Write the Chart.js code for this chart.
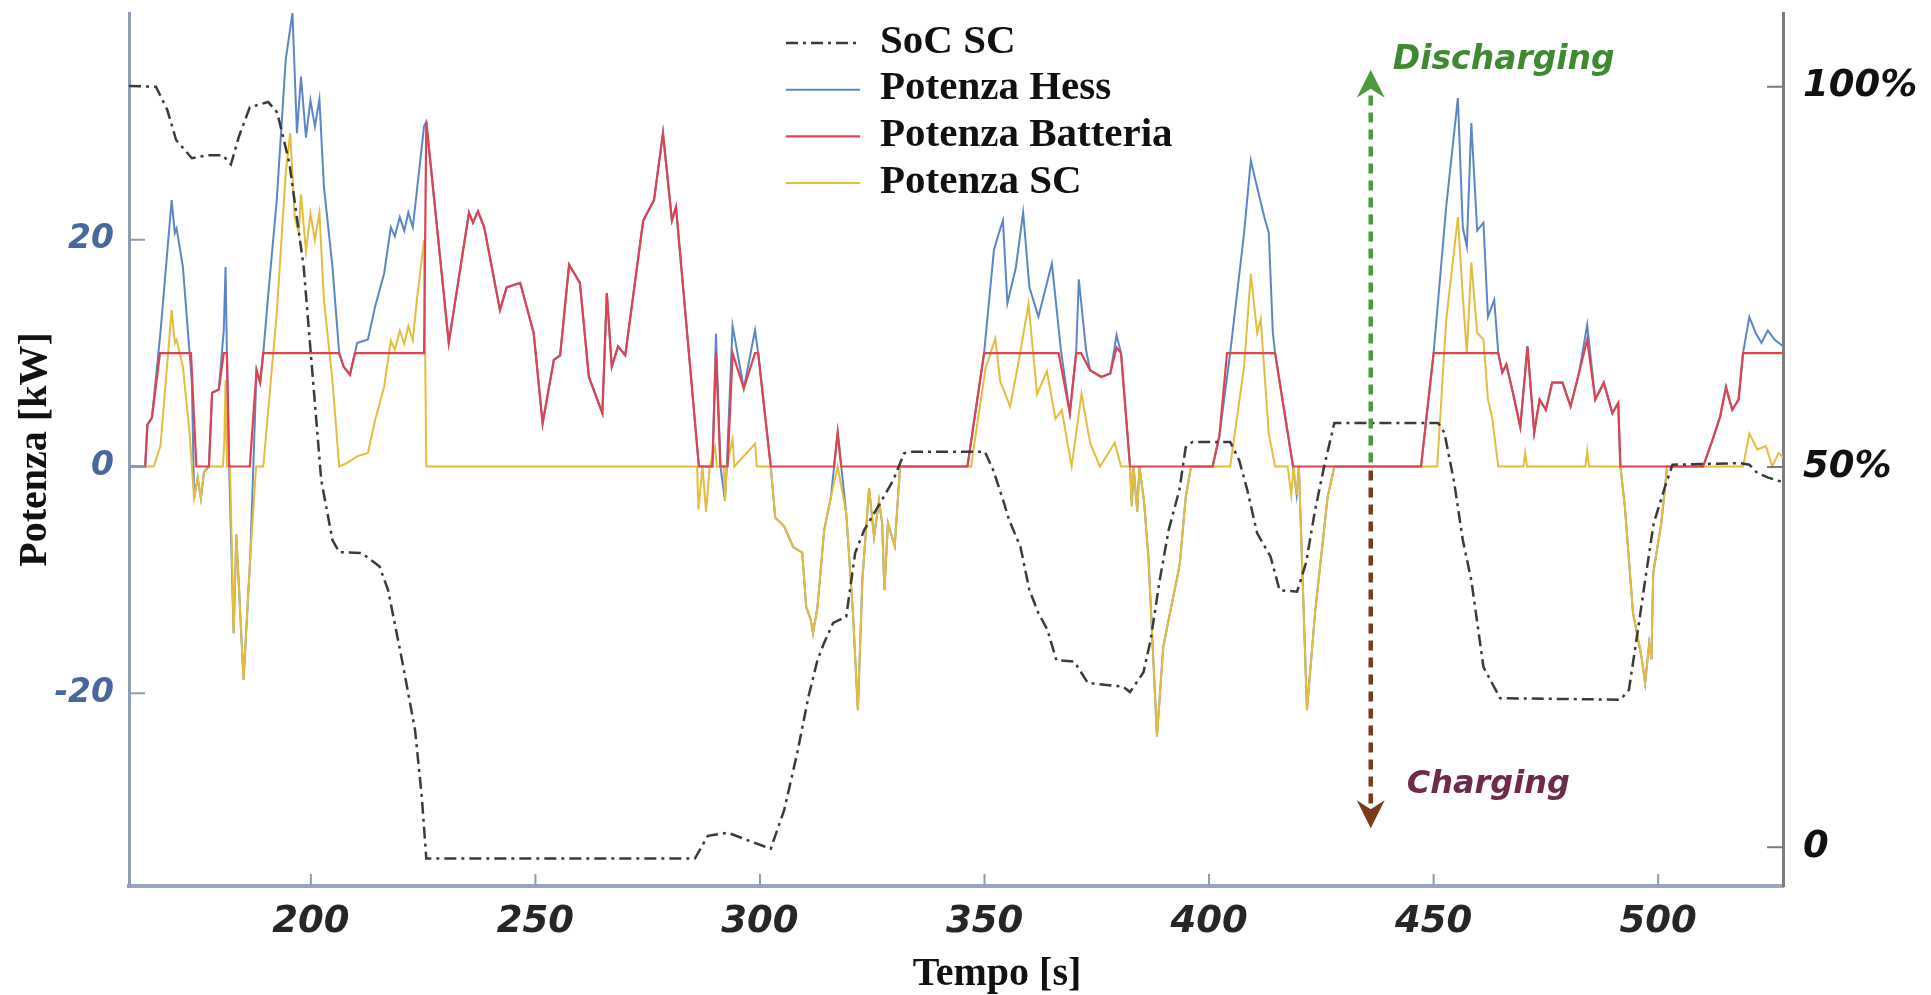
<!DOCTYPE html>
<html><head><meta charset="utf-8">
<script src="https://cdn.jsdelivr.net/npm/chart.js@4.4.0/dist/chart.umd.min.js"></script>
<style>html,body{margin:0;padding:0;background:#fff;overflow:hidden}canvas{display:block}</style>
</head><body>
<canvas id="c" width="1931" height="995"></canvas>
<script>
// ---------- DATA (time [s], value) ----------
const seriesNames = ['SoC SC', 'Potenza Hess', 'Potenza Batteria', 'Potenza SC'];

const socSC = [[159.5,100.1],[165.5,100],[168,97],[170,93],[173.5,90.6],[177,91],[180.4,91],[182.2,89.8],[184,93.5],[186.4,97.3],[190.5,98],[192.5,96.6],[195.2,90],[198.4,76.3],[202.3,48.3],[204.8,40.4],[206.3,38.8],[211.3,38.7],[215.3,36.9],[217.2,33.8],[220.3,24.6],[223.2,15.4],[224.7,6.6],[225.7,-1.5],[285.5,-1.5],[288.4,1.5],[292.9,1.9],[296.9,1.0],[302.4,-0.2],[305.4,4.9],[308.3,12.4],[310.8,19.8],[312.8,24.6],[314.3,26.9],[316.3,29.5],[319.2,30.3],[321.2,38.7],[323.2,41.7],[327.2,45.7],[329.7,48.3],[332.1,51.8],[334,52],[350.1,52],[352,49.5],[354.1,45.7],[355.5,43],[358,39.5],[360,33.8],[362,30.8],[364,28.6],[366,24.6],[370,24.4],[373,21.6],[380.9,21.1],[382.4,20.4],[385.4,23],[387,27.3],[389,35.1],[391,41.7],[393.4,47],[394.8,52.6],[396.3,53.3],[404.7,53.3],[406.7,50.9],[408.5,47],[410.7,41.3],[413.7,38.2],[415.7,33.8],[419.6,33.6],[421.6,37.4],[423.6,44.3],[425.6,50],[427.9,55.8],[451,55.8],[452.4,54.5],[454.6,47.9],[456.5,40.4],[458.4,35.1],[461.1,23.7],[464.8,19.6],[491.6,19.4],[493.5,20.7],[495.4,28.2],[497.1,35.1],[499,42.6],[501.8,47.9],[503.2,50.3],[518.4,50.5],[520.3,50.3],[522.1,49.2],[524.5,48.6],[527.8,48]];

const potenzaBatteria = [[159.5,0],[163.1,0],[163.6,3.7],[164.6,4.3],[166.4,10],[173.3,10],[174.5,0],[177.3,0],[178,6.5],[179.5,6.8],[180.6,10],[181.3,10],[181.8,0],[186.4,0],[187.9,8.5],[188.7,7.4],[189.4,10],[206.3,10],[207.3,8.8],[208.7,8.1],[209.8,10],[225.2,10],[225.7,30.4],[230.7,10.9],[235.2,22.4],[236.1,21.5],[237.2,22.5],[238.6,21.1],[242.1,13.8],[243.6,15.8],[246.6,16.2],[249.6,11.8],[251.6,3.8],[254.1,9.4],[255.5,9.8],[257.5,17.8],[259.9,16.2],[261.9,7.9],[264.9,4.7],[265.9,15.3],[267,8.8],[268.4,10.6],[270,9.8],[274,21.7],[276.4,23.5],[278.4,29.4],[280.4,21.7],[281.3,22.9],[286.4,0],[289.4,0],[290.2,10],[291.2,0],[292.8,0],[293.9,10],[296.4,6.9],[298.9,10],[299.6,10],[302.4,0],[316.5,0],[317.3,3],[318.1,0],[346.2,0],[349.9,10],[366.5,10],[369,4.7],[370.4,10],[371.5,10],[373.5,8.5],[376,7.9],[378,8.2],[379.4,10.5],[380.4,10],[382.4,0],[400.8,0],[402.3,2.7],[404,10],[414.7,10],[418.7,0],[447.2,0],[450,10],[464.4,10],[465.3,8.3],[466.2,9],[467.5,6.8],[469.3,3.5],[470.9,10.6],[472.4,3],[473.6,5.9],[475,5],[476.4,7.4],[478.7,7.4],[480.5,5.3],[482.4,8.3],[484.2,11.2],[486,5.9],[487.9,7.4],[489.8,4.7],[491.1,5.6],[491.6,0],[510,0],[511.9,2.1],[513.8,4.4],[515.1,7],[516.5,5],[517.9,5.9],[518.9,10],[527.8,10]];

const potenzaSC = [[159.5,0],[165,0],[166.5,1.8],[169,13.8],[169.7,10.9],[170.1,11.2],[171.5,8.8],[173,2.9],[173.5,0],[174,-2.8],[174.8,-1],[175.5,-2.8],[176.2,-0.5],[177,0],[180.4,0],[180.7,2],[181,7.6],[181.3,0],[182,0],[182.8,-14.7],[183.4,-6],[185,-18.8],[186.5,-8],[187.8,0],[189.4,0],[192.4,13.5],[194.4,25.9],[195.4,29.4],[196.4,22],[197.3,20.6],[197.8,24],[198.9,19],[199.9,22.3],[200.9,20],[201.9,22.4],[202.9,14.7],[204.8,7.6],[206.3,0],[208,0.3],[210.3,0.9],[212.7,1.2],[214.3,4.1],[216.3,7],[217.8,11.1],[218.7,10.3],[219.8,12],[220.8,10.8],[221.7,12.4],[222.7,11.1],[223.6,14.7],[225.2,20],[225.7,0],[286,0],[286.3,-3.8],[287.2,0],[288,-4],[288.8,0],[290,1.7],[290.4,0],[291.9,0],[292.2,-3],[292.6,0],[293.9,2.4],[294.3,0],[298.9,2],[299.3,0],[302.4,0],[303.4,-4.5],[305.4,-5.3],[307.4,-7.1],[309.4,-7.6],[310.3,-12.4],[311.3,-13.5],[311.8,-14.7],[312.8,-12.4],[314.3,-5.6],[315.8,-2.7],[317.3,0],[319.2,-4.1],[320.7,-12.9],[321.8,-21.5],[322.8,-10],[324.3,-1.9],[325.4,-6.2],[326.5,-3],[327.2,-5],[327.7,-10.9],[328.5,-5],[330,-7],[331.2,0],[347,0],[350.2,8.6],[352.4,11.3],[353.5,7.5],[355.7,5.3],[357.3,8.6],[359.8,14.3],[361.7,6.4],[363.9,8.4],[365.8,4.2],[367.2,5],[369.4,0],[371.6,6.4],[373.5,2.1],[375.7,0],[379,2.1],[380.4,0],[382.4,0],[382.8,-3.5],[383.2,0],[384,-4],[384.5,0],[385.5,-3],[386.5,-8],[388.4,-23.8],[389.8,-15.9],[391.3,-12.9],[392.8,-10],[393.5,-8.5],[394.8,-2.7],[396,0],[404.7,0],[407.8,8.8],[409.3,17],[410.7,11.8],[411.5,13],[413.3,2.9],[414.7,0],[417.5,0],[418.3,-2.5],[418.8,0],[419.5,-2.5],[420,0],[421.8,-21.5],[423.6,-12.9],[426.4,-2.7],[427.9,0],[450.8,0],[452.8,12.9],[455.4,22],[456.5,15],[457.4,10],[458.4,18],[459.7,11.8],[461.1,11.2],[462.1,5.9],[463,4.4],[464.4,0],[470,0],[470.4,1.2],[470.8,0],[483.8,0],[484.2,1.4],[484.6,0],[491.6,0],[492.6,-3.6],[494.4,-12.9],[496.3,-16.8],[497.1,-19.1],[498,-15.6],[498.5,-17],[498.9,-9.4],[500.7,-5],[502,0],[518.9,0],[520.3,2.9],[522.1,1.5],[524,1.8],[525.4,0],[526.8,1.2],[527.8,0.8]];

const potenzaHess = [[159.5,0],[163.1,0],[163.6,3.7],[164.6,4.3],[166.5,11.8],[169,23.5],[169.7,20.6],[170.1,21],[171.5,17.6],[173.5,7.4],[174,-2.8],[174.8,-1],[175.5,-2.8],[176.2,-0.5],[177.3,0],[178,6.5],[179.5,6.8],[180.6,12],[181,17.6],[181.3,10],[181.8,0],[182.8,-14.7],[183.4,-6],[185,-18.8],[186.5,-8],[187.9,8.5],[188.7,7.4],[189.4,10],[190.4,14.7],[192.4,23.5],[194.4,35.9],[195.9,40],[196.9,29.4],[197.8,34.4],[198.9,29],[199.9,32.3],[200.9,30],[201.9,32.4],[202.9,24.7],[204.8,17.6],[206.3,10],[207.3,8.8],[208.7,8.1],[209.8,10],[210.3,10.9],[212.7,11.2],[214.3,14.1],[216.3,17],[217.8,21.1],[218.7,20.3],[219.8,22],[220.8,20.8],[221.7,22.4],[222.7,21.1],[225.2,30],[225.7,30.4],[230.7,10.9],[235.2,22.4],[236.1,21.5],[237.2,22.5],[238.6,21.1],[242.1,13.8],[243.6,15.8],[246.6,16.2],[249.6,11.8],[251.6,3.8],[254.1,9.4],[255.5,9.8],[257.5,17.8],[259.9,16.2],[261.9,7.9],[264.9,4.7],[265.9,15.3],[267,8.8],[268.4,10.6],[270,9.8],[274,21.7],[276.4,23.5],[278.4,29.4],[280.4,21.7],[281.3,22.9],[286.4,0],[289.4,0],[290.2,11.7],[291.2,0],[292.2,-3],[292.6,0],[293.9,12.4],[296.4,6.9],[298.9,12],[299.6,10],[302.4,0],[303.4,-4.5],[305.4,-5.3],[307.4,-7.1],[309.4,-7.6],[310.3,-12.4],[311.3,-13.5],[311.8,-14.7],[312.8,-12.4],[314.3,-5.6],[315.8,-2.7],[317.3,3],[319.2,-4.1],[320.7,-12.9],[321.8,-21.5],[322.8,-10],[324.3,-1.9],[325.4,-6.2],[326.5,-3],[327.2,-5],[327.7,-10.9],[328.5,-5],[330,-7],[331.2,0],[346.2,0],[349.9,10],[352.1,19.1],[353.2,20.6],[354.1,21.7],[355.1,14.4],[357,17.6],[358.6,22.4],[360,15.8],[362,13.2],[365,17.9],[367,10.3],[369,4.7],[370.4,10],[371,16.5],[372.6,10.3],[373.5,8.5],[376,7.9],[378,8.2],[379.4,11.6],[380.4,10],[382.4,0],[382.8,-3.5],[383.2,0],[384,-4],[384.5,0],[385.5,-3],[386.5,-8],[388.4,-23.8],[389.8,-15.9],[391.3,-12.9],[392.8,-10],[393.5,-8.5],[394.8,-2.7],[396,0],[400.8,0],[402.3,2.7],[404.7,10],[407.8,20.6],[409.3,27],[410.3,25.3],[412.3,22],[413.3,20.6],[414.2,11.8],[414.7,10],[418.7,0],[419.5,-2.5],[420,0],[421.8,-21.5],[423.6,-12.9],[426.4,-2.7],[427.9,0],[447.2,0],[450,10],[452.8,22.9],[455.4,32.5],[456.5,21.1],[457.4,19.4],[458.4,30.3],[459.7,20.8],[461.1,21.5],[462.1,13.2],[463.5,14.7],[464.4,10],[465.3,8.3],[466.2,9],[467.5,6.8],[469.3,3.5],[470.9,10.6],[472.4,3],[473.6,5.9],[475,5],[476.4,7.4],[478.7,7.4],[480.5,5.3],[482.4,8.3],[484.2,12.5],[486,5.9],[487.9,7.4],[489.8,4.7],[491.1,5.6],[491.6,0],[492.6,-3.6],[494.4,-12.9],[496.3,-16.8],[497.1,-19.1],[498,-15.6],[498.5,-17],[498.9,-9.4],[500.7,-5],[502,0],[510,0],[511.9,2.1],[513.8,4.4],[515.1,7],[516.5,5],[517.9,5.9],[518.9,10],[520.3,13.2],[521.7,11.8],[523,10.9],[524.4,12],[525.9,11.2],[527.8,10.6]];

const xTicks = [200, 250, 300, 350, 400, 450, 500];
const kwTicks = [-20, 0, 20];
const socTicks = [0, 50, 100];
const socTickLabels = ['0', '50%', '100%'];
const xRange = [159.5, 527.8];
const kwRange = [-37, 40];
const socRange = [-5.1, 109.7];
const xTitle = 'Tempo [s]';
const yTitle = 'Potenza [kW]';

// annotation (data units)
const arrowTime = 436;
const dischargeTip = 35;
const chargeTip = -31.9;
const dischargeLabel = {text: 'Discharging', t: 440.9, kw: 35.1};
const chargeLabel = {text: 'Charging', t: 444.0, kw: -28.8};

// ---------- STYLE ----------
const colors = {soc: '#3a3a3a', hess: '#5b86c6', batt: '#dc4450', sc: '#e4bd3f'};
const toXY = arr => arr.map(p => ({x: p[0], y: p[1]}));

const innerTicks = {
  id: 'innerTicks',
  afterDatasetsDraw(chart) {
    const ctx = chart.ctx; const {x, y, y1} = chart.scales;
    ctx.save(); ctx.lineWidth = 2;
    ctx.strokeStyle = '#8e9ab0';
    x.ticks.forEach(t => { const p = x.getPixelForValue(t.value); ctx.beginPath(); ctx.moveTo(p, x.top); ctx.lineTo(p, x.top - 12); ctx.stroke(); });
    y.ticks.forEach(t => { const p = y.getPixelForValue(t.value); ctx.beginPath(); ctx.moveTo(y.right, p); ctx.lineTo(y.right + 16, p); ctx.stroke(); });
    ctx.strokeStyle = '#7a7a7a';
    y1.ticks.forEach(t => { const p = y1.getPixelForValue(t.value); ctx.beginPath(); ctx.moveTo(y1.left, p); ctx.lineTo(y1.left - 16, p); ctx.stroke(); });
    ctx.restore();
  }
};

// x-axis title (drawn slightly right of the axis centre, as in the original figure)
const xAxisTitle = {
  id: 'xAxisTitle',
  afterDraw(chart) {
    const ctx = chart.ctx; const x = chart.scales.x;
    ctx.save();
    ctx.font = 'bold 40px "Liberation Serif"';
    ctx.fillStyle = '#111'; ctx.textAlign = 'center'; ctx.textBaseline = 'middle';
    ctx.fillText(xTitle, (x.left + x.right) / 2 + 41, x.bottom - 20);
    ctx.restore();
  }
};

function drawHead(ctx, px, tipY, dir, color) {
  const h = 28, w = 14;
  ctx.fillStyle = color;
  ctx.beginPath();
  ctx.moveTo(px, tipY);
  ctx.lineTo(px + w, tipY - dir * h);
  ctx.lineTo(px, tipY - dir * h * 0.68);
  ctx.lineTo(px - w, tipY - dir * h);
  ctx.closePath(); ctx.fill();
}

const arrowNote = {
  id: 'arrowNote',
  afterDatasetsDraw(chart) {
    const ctx = chart.ctx; const {x, y} = chart.scales;
    const px = x.getPixelForValue(arrowTime);
    const p0 = y.getPixelForValue(0);
    const pTop = y.getPixelForValue(dischargeTip);
    const pBot = y.getPixelForValue(chargeTip);
    ctx.save();
    ctx.lineWidth = 4.5; ctx.setLineDash([10, 7]);
    ctx.strokeStyle = '#4b9b3c';
    ctx.beginPath(); ctx.moveTo(px, p0 - 4); ctx.lineTo(px, pTop + 24); ctx.stroke();
    ctx.strokeStyle = '#7c3a1c';
    ctx.beginPath(); ctx.moveTo(px, p0 + 4); ctx.lineTo(px, pBot - 24); ctx.stroke();
    ctx.setLineDash([]);
    drawHead(ctx, px, pTop, -1, '#4b9b3c');
    drawHead(ctx, px, pBot, 1, '#7c3a1c');
    ctx.textBaseline = 'alphabetic'; ctx.textAlign = 'left';
    ctx.font = 'italic bold 33px "DejaVu Sans"';
    ctx.fillStyle = '#3f8a30';
    ctx.fillText(dischargeLabel.text, x.getPixelForValue(dischargeLabel.t), y.getPixelForValue(dischargeLabel.kw));
    ctx.font = 'italic bold 32px "DejaVu Sans"';
    ctx.fillStyle = '#6e2a4a';
    ctx.fillText(chargeLabel.text, x.getPixelForValue(chargeLabel.t), y.getPixelForValue(chargeLabel.kw));
    ctx.restore();
  }
};

const legendBox = {
  id: 'legendBox',
  afterDatasetsDraw(chart) {
    const ctx = chart.ctx;
    const lx0 = 786, lx1 = 860, tx = 880, ty0 = 40, dy = 46.7;
    ctx.save();
    ctx.font = 'bold 41px "Liberation Serif"';
    ctx.textBaseline = 'middle'; ctx.textAlign = 'left';
    chart.data.datasets.forEach((ds, i) => {
      const yy = ty0 + i * dy;
      ctx.strokeStyle = ds.borderColor; ctx.lineWidth = ds.borderWidth;
      ctx.setLineDash(ds.borderDash || []);
      ctx.beginPath(); ctx.moveTo(lx0, yy + 3); ctx.lineTo(lx1, yy + 3); ctx.stroke();
      ctx.setLineDash([]);
      ctx.fillStyle = '#111';
      ctx.fillText(ds.label, tx, yy + 2);
    });
    ctx.restore();
  }
};

const tickFont = size => ({family: 'DejaVu Sans', size, style: 'italic', weight: 'bold'});
const noEdgePad = s => { s.paddingTop = 0; s.paddingBottom = 0; };

new Chart(document.getElementById('c'), {
  type: 'line',
  data: {
    datasets: [
      {label: seriesNames[0], data: toXY(socSC), yAxisID: 'y1', borderColor: colors.soc, borderWidth: 2.5, borderDash: [12, 5, 3, 5], order: 0},
      {label: seriesNames[1], data: toXY(potenzaHess), yAxisID: 'y', borderColor: colors.hess, borderWidth: 2, order: 3},
      {label: seriesNames[2], data: toXY(potenzaBatteria), yAxisID: 'y', borderColor: colors.batt, borderWidth: 2.2, order: 1},
      {label: seriesNames[3], data: toXY(potenzaSC), yAxisID: 'y', borderColor: colors.sc, borderWidth: 2, order: 2}
    ]
  },
  options: {
    responsive: false, animation: false, devicePixelRatio: 1,
    elements: {point: {radius: 0}, line: {tension: 0, fill: false}},
    layout: {padding: {top: 13, left: 0, right: 0, bottom: 0}},
    plugins: {legend: {display: false}, tooltip: {enabled: false}},
    scales: {
      x: {
        type: 'linear', min: xRange[0], max: xRange[1],
        afterBuildTicks: s => { s.ticks = xTicks.map(v => ({value: v})); },
        afterFit: s => { s.height = 109; s.paddingLeft = 0; s.paddingRight = 0; },
        grid: {display: false, drawTicks: false},
        border: {display: true, color: '#9aa5ba', width: 4},
        ticks: {font: tickFont(37), color: '#262626', padding: 14, maxRotation: 0, autoSkip: false},
        title: {display: false, text: xTitle}
      },
      y: {
        type: 'linear', position: 'left', min: kwRange[0], max: kwRange[1],
        afterBuildTicks: s => { s.ticks = kwTicks.map(v => ({value: v})); },
        afterFit: s => { s.width = 129; noEdgePad(s); },
        grid: {display: false, drawTicks: false},
        border: {display: true, color: '#8d9cb8', width: 3},
        ticks: {font: tickFont(33), color: '#48679f', padding: 15},
        title: {display: true, text: yTitle, color: '#111', font: {family: 'Liberation Serif', size: 40, weight: 'bold', lineHeight: 1}, padding: {top: 16, bottom: 0}}
      },
      y1: {
        type: 'linear', position: 'right', min: socRange[0], max: socRange[1],
        afterBuildTicks: s => { s.ticks = socTicks.map(v => ({value: v})); },
        afterFit: s => { s.width = 148; noEdgePad(s); },
        grid: {display: false, drawTicks: false},
        border: {display: true, color: '#7d7d7d', width: 3},
        ticks: {font: tickFont(37), color: '#111', padding: 20, callback: v => socTickLabels[socTicks.indexOf(v)]}
      }
    }
  },
  plugins: [innerTicks, arrowNote, legendBox, xAxisTitle]
});
</script>
</body></html>
